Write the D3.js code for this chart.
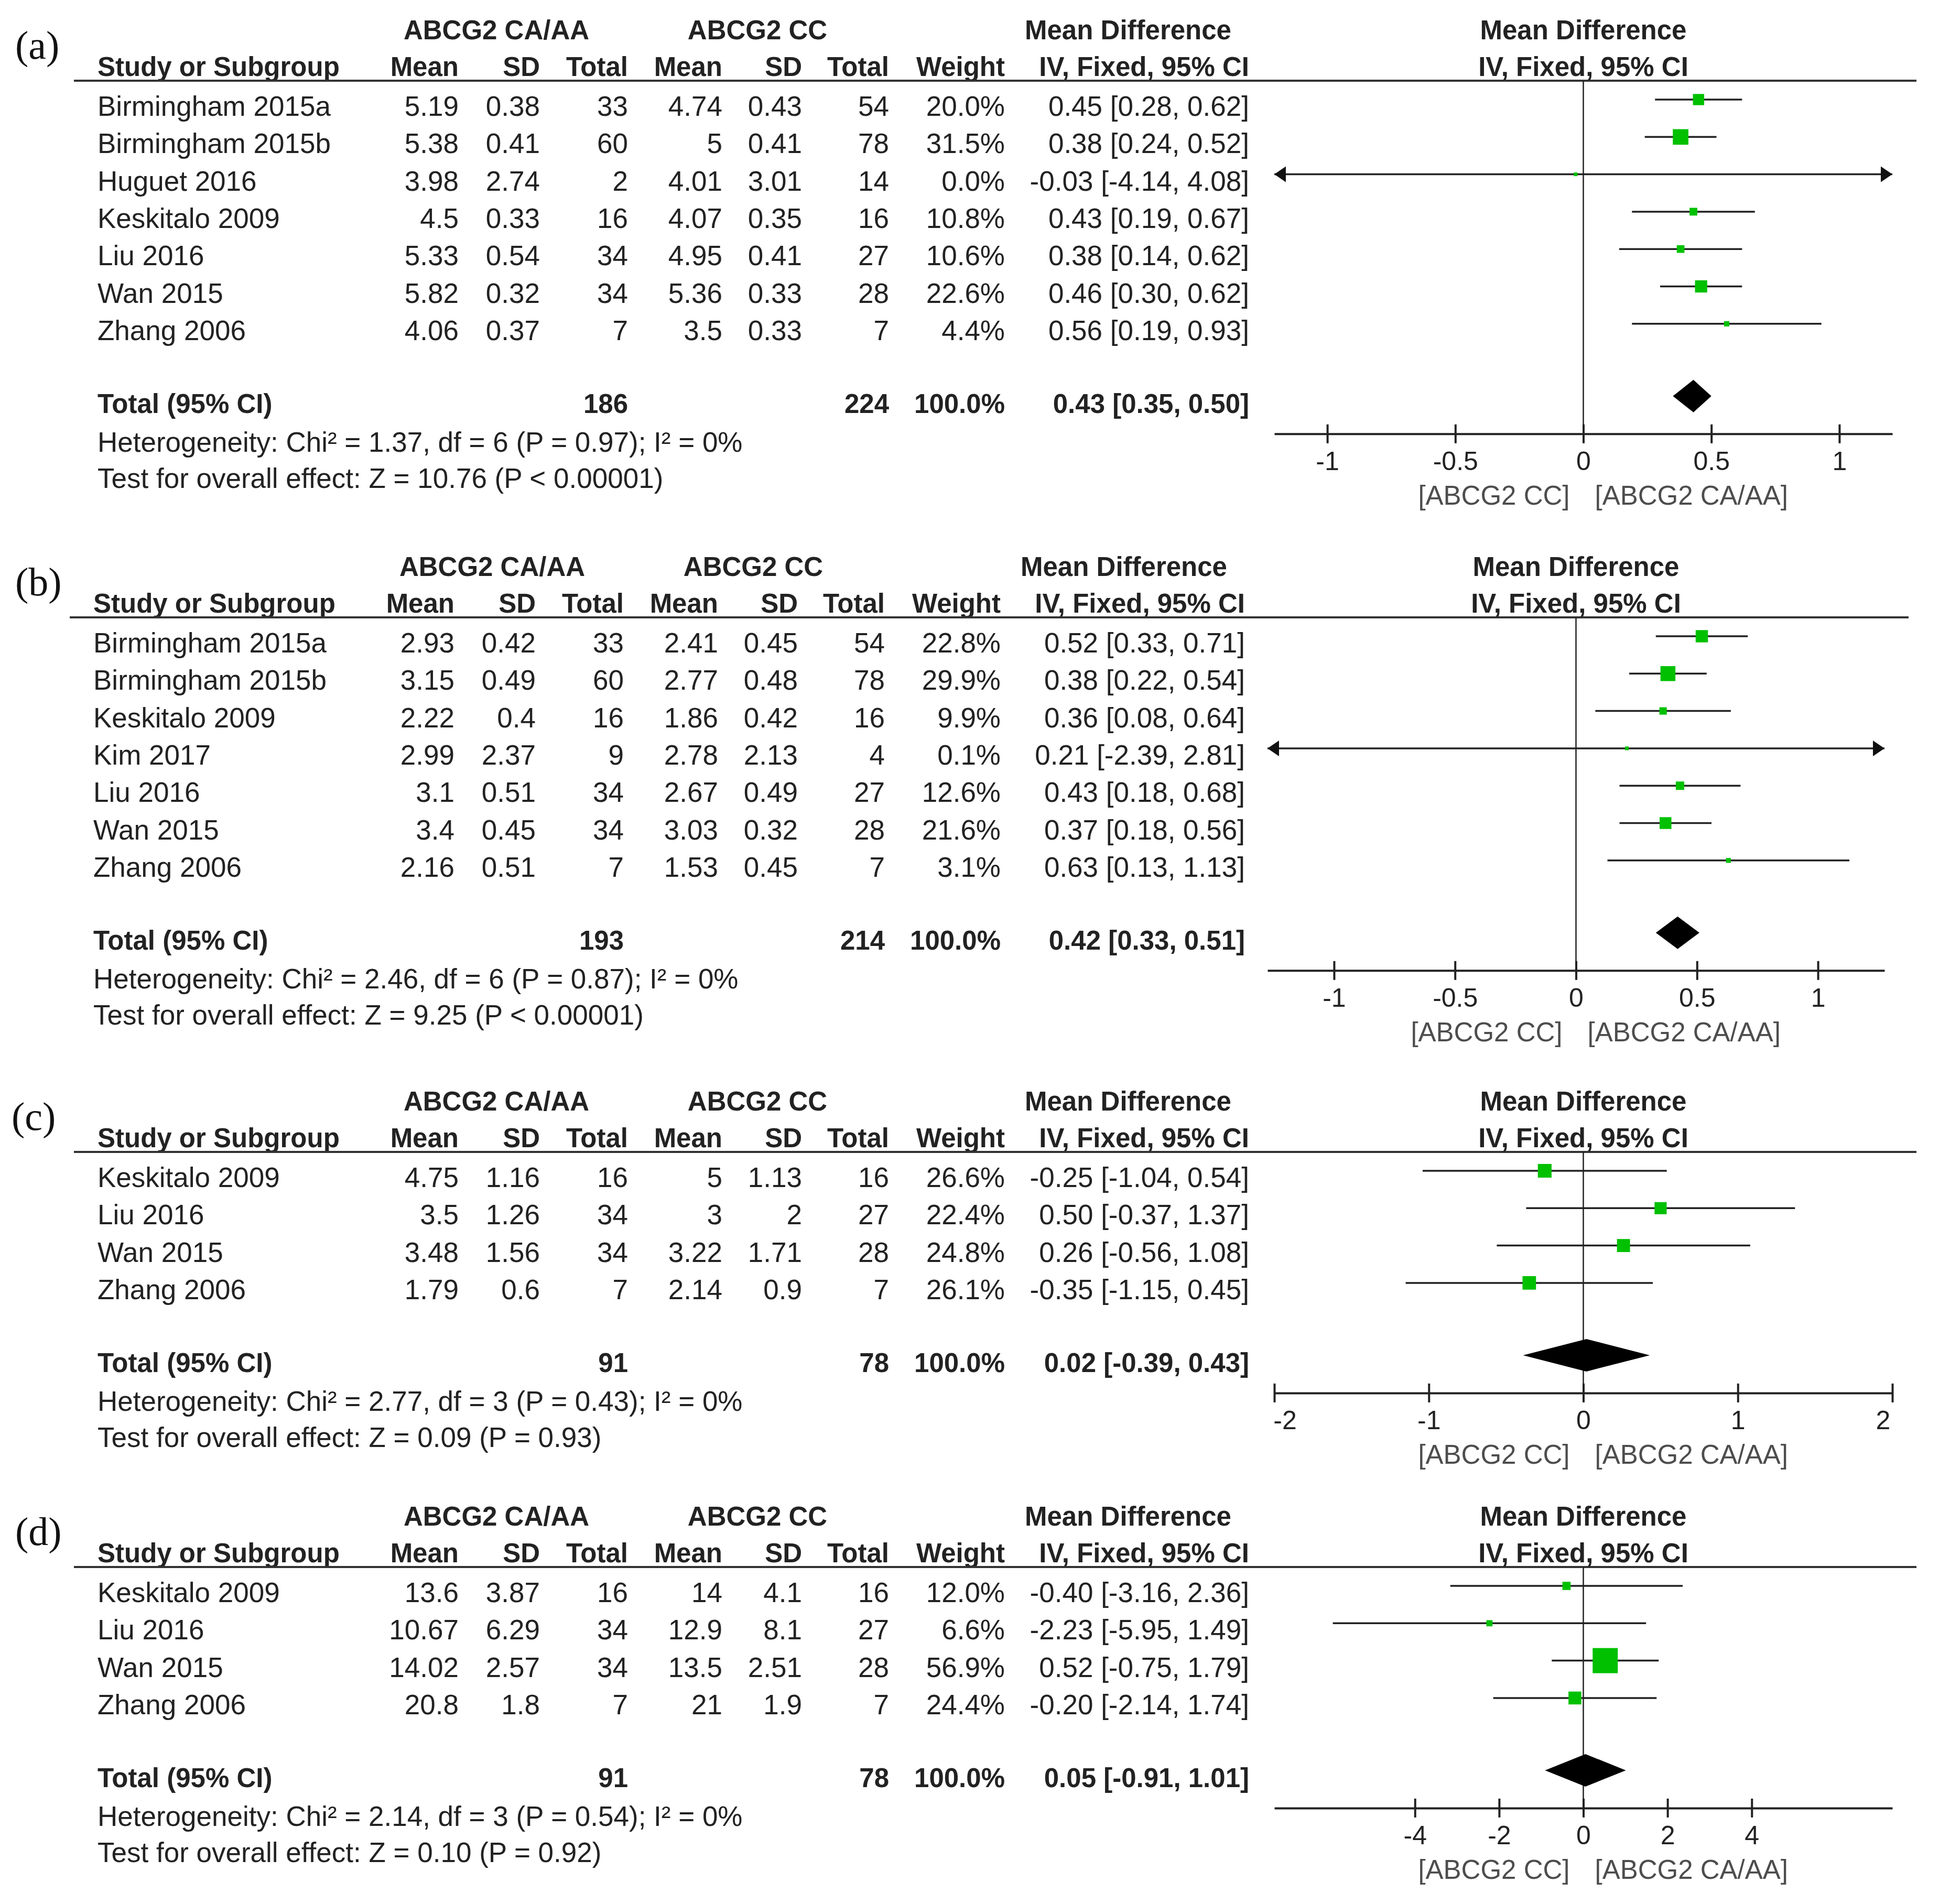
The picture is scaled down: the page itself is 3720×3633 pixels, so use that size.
<!DOCTYPE html>
<html><head><meta charset="utf-8">
<script src="https://cdn.jsdelivr.net/npm/d3@7"></script>
<style>html,body{margin:0;padding:0;background:#fff;} svg{display:block;background:#fff;}</style>
</head><body><svg id="chart" width="3720" height="3633"></svg>
<script>
// ---------------- Panel (a) ----------------
const studiesA = ["Birmingham 2015a","Birmingham 2015b","Huguet 2016","Keskitalo 2009","Liu 2016","Wan 2015","Zhang 2006"];
const caMeanA = [5.19,5.38,3.98,4.5,5.33,5.82,4.06];
const caSdA   = [0.38,0.41,2.74,0.33,0.54,0.32,0.37];
const caNA    = [33,60,2,16,34,34,7];
const ccMeanA = [4.74,5,4.01,4.07,4.95,5.36,3.5];
const ccSdA   = [0.43,0.41,3.01,0.35,0.41,0.33,0.33];
const ccNA    = [54,78,14,16,27,28,7];
const weightA = [20.0,31.5,0.0,10.8,10.6,22.6,4.4];
const mdA     = [0.45,0.38,-0.03,0.43,0.38,0.46,0.56];
const loA     = [0.28,0.24,-4.14,0.19,0.14,0.30,0.19];
const hiA     = [0.62,0.52,4.08,0.67,0.62,0.62,0.93];
const totalsA = [186,224];
const pooledA = [0.43,0.35,0.50];
const hetA  = "Heterogeneity: Chi\u00B2 = 1.37, df = 6 (P = 0.97); I\u00B2 = 0%";
const testA = "Test for overall effect: Z = 10.76 (P < 0.00001)";
const ticksA = [-1,-0.5,0,0.5,1];

// ---------------- Panel (b) ----------------
const studiesB = ["Birmingham 2015a","Birmingham 2015b","Keskitalo 2009","Kim 2017","Liu 2016","Wan 2015","Zhang 2006"];
const caMeanB = [2.93,3.15,2.22,2.99,3.1,3.4,2.16];
const caSdB   = [0.42,0.49,0.4,2.37,0.51,0.45,0.51];
const caNB    = [33,60,16,9,34,34,7];
const ccMeanB = [2.41,2.77,1.86,2.78,2.67,3.03,1.53];
const ccSdB   = [0.45,0.48,0.42,2.13,0.49,0.32,0.45];
const ccNB    = [54,78,16,4,27,28,7];
const weightB = [22.8,29.9,9.9,0.1,12.6,21.6,3.1];
const mdB     = [0.52,0.38,0.36,0.21,0.43,0.37,0.63];
const loB     = [0.33,0.22,0.08,-2.39,0.18,0.18,0.13];
const hiB     = [0.71,0.54,0.64,2.81,0.68,0.56,1.13];
const totalsB = [193,214];
const pooledB = [0.42,0.33,0.51];
const hetB  = "Heterogeneity: Chi\u00B2 = 2.46, df = 6 (P = 0.87); I\u00B2 = 0%";
const testB = "Test for overall effect: Z = 9.25 (P < 0.00001)";
const ticksB = [-1,-0.5,0,0.5,1];

// ---------------- Panel (c) ----------------
const studiesC = ["Keskitalo 2009","Liu 2016","Wan 2015","Zhang 2006"];
const caMeanC = [4.75,3.5,3.48,1.79];
const caSdC   = [1.16,1.26,1.56,0.6];
const caNC    = [16,34,34,7];
const ccMeanC = [5,3,3.22,2.14];
const ccSdC   = [1.13,2,1.71,0.9];
const ccNC    = [16,27,28,7];
const weightC = [26.6,22.4,24.8,26.1];
const mdC     = [-0.25,0.50,0.26,-0.35];
const loC     = [-1.04,-0.37,-0.56,-1.15];
const hiC     = [0.54,1.37,1.08,0.45];
const totalsC = [91,78];
const pooledC = [0.02,-0.39,0.43];
const hetC  = "Heterogeneity: Chi\u00B2 = 2.77, df = 3 (P = 0.43); I\u00B2 = 0%";
const testC = "Test for overall effect: Z = 0.09 (P = 0.93)";
const ticksC = [-2,-1,0,1,2];

// ---------------- Panel (d) ----------------
const studiesD = ["Keskitalo 2009","Liu 2016","Wan 2015","Zhang 2006"];
const caMeanD = [13.6,10.67,14.02,20.8];
const caSdD   = [3.87,6.29,2.57,1.8];
const caND    = [16,34,34,7];
const ccMeanD = [14,12.9,13.5,21];
const ccSdD   = [4.1,8.1,2.51,1.9];
const ccND    = [16,27,28,7];
const weightD = [12.0,6.6,56.9,24.4];
const mdD     = [-0.40,-2.23,0.52,-0.20];
const loD     = [-3.16,-5.95,-0.75,-2.14];
const hiD     = [2.36,1.49,1.79,1.74];
const totalsD = [91,78];
const pooledD = [0.05,-0.91,1.01];
const hetD  = "Heterogeneity: Chi\u00B2 = 2.14, df = 3 (P = 0.54); I\u00B2 = 0%";
const testD = "Test for overall effect: Z = 0.10 (P = 0.92)";
const ticksD = [-4,-2,0,2,4];

const groupLabels = ["ABCG2 CA/AA","ABCG2 CC"];
const favourLabels = ["[ABCG2 CC]","[ABCG2 CA/AA]"];

// ---------------- assemble ----------------
function mk(label, studies, caM, caS, caN, ccM, ccS, ccN, w, md, lo, hi, totals, pooled, het, test, ticks, domainHalf, layout) {
  return {label, rows: studies.map((s,i)=>({study:s, caM:caM[i], caS:caS[i], caN:caN[i], ccM:ccM[i], ccS:ccS[i], ccN:ccN[i], w:w[i], md:md[i], lo:lo[i], hi:hi[i]})),
          totals, pooled, het, test, ticks, domain:[-domainHalf, domainHalf], layout};
}
const panels = [
  mk("(a)", studiesA, caMeanA, caSdA, caNA, ccMeanA, ccSdA, ccNA, weightA, mdA, loA, hiA, totalsA, pooledA, hetA, testA, ticksA, 1.207, {hl:154, dx:0, range:[2431,3610]}),
  mk("(b)", studiesB, caMeanB, caSdB, caNB, ccMeanB, ccSdB, ccNB, weightB, mdB, loB, hiB, totalsB, pooledB, hetB, testB, ticksB, 1.275, {hl:1178, dx:-8, range:[2418,3595]}),
  mk("(c)", studiesC, caMeanC, caSdC, caNC, ccMeanC, ccSdC, ccNC, weightC, mdC, loC, hiC, totalsC, pooledC, hetC, testC, ticksC, 2.0, {hl:2198, dx:0, range:[2431,3610]}),
  mk("(d)", studiesD, caMeanD, caSdD, caND, ccMeanD, ccSdD, ccND, weightD, mdD, loD, hiD, totalsD, pooledD, hetD, testD, ticksD, 7.34, {hl:2990, dx:0, range:[2431,3610]})
];

const svg = d3.select("#chart");
const SANS = "'Liberation Sans', Arial, Helvetica, sans-serif";
const SERIF = "'Liberation Serif', 'Times New Roman', serif";
const TXT = "#222";
const GREEN = "#00c000";
const COL = {name:186, caM:875, caS:1030, caN:1198, ccM:1378, ccS:1530, ccN:1696, w:1917, ci:2383};
const ROWH = 71.3;
const sizeScale = d3.scaleLinear().domain([0,100]).range([7,79]);
const fmt2 = v => v.toFixed(2);
const ciStr = (m,l,h) => `${fmt2(m)} [${fmt2(l)}, ${fmt2(h)}]`;

panels.forEach(p => {
  const L = p.layout, hl = L.hl;
  // panel label
  svg.append("text").attr("x", p.label === "(c)" ? 22 : 29).attr("y", hl-42)
    .attr("font-family", SERIF).attr("font-size", 76).attr("fill", "#111").text(p.label);

  const g = svg.append("g").attr("transform", `translate(${L.dx},0)`);
  const T = (x, y, s, anchor, bold, size) => g.append("text").attr("x", x).attr("y", y)
      .attr("text-anchor", anchor || "start").attr("font-family", SANS)
      .attr("font-size", size || (bold ? 51 : 53)).attr("font-weight", bold ? "bold" : "normal")
      .attr("fill", TXT).text(s);

  // headers
  T(947, hl-79, groupLabels[0], "middle", true);
  T(1445, hl-79, groupLabels[1], "middle", true);
  T(2152, hl-79, "Mean Difference", "middle", true);
  T(COL.name, hl-9, "Study or Subgroup", "start", true);
  T(COL.caM, hl-9, "Mean", "end", true);
  T(COL.caS, hl-9, "SD", "end", true);
  T(COL.caN, hl-9, "Total", "end", true);
  T(COL.ccM, hl-9, "Mean", "end", true);
  T(COL.ccS, hl-9, "SD", "end", true);
  T(COL.ccN, hl-9, "Total", "end", true);
  T(COL.w, hl-9, "Weight", "end", true);
  T(COL.ci, hl-9, "IV, Fixed, 95% CI", "end", true);

  // header rule
  svg.append("line").attr("x1", 141+L.dx).attr("x2", 3656+ (L.range[1]-3610)).attr("y1", hl).attr("y2", hl)
    .attr("stroke", "#333").attr("stroke-width", 4);

  const base = i => hl + 67 + i*ROWH;
  p.rows.forEach((r,i) => {
    const y = base(i);
    T(COL.name, y, r.study);
    T(COL.caM, y, String(r.caM), "end");
    T(COL.caS, y, String(r.caS), "end");
    T(COL.caN, y, String(r.caN), "end");
    T(COL.ccM, y, String(r.ccM), "end");
    T(COL.ccS, y, String(r.ccS), "end");
    T(COL.ccN, y, String(r.ccN), "end");
    T(COL.w, y, r.w.toFixed(1) + "%", "end");
    T(COL.ci, y, ciStr(r.md, r.lo, r.hi), "end");
  });
  const n = p.rows.length;
  const totY = base(n-1) + 139;
  T(COL.name, totY, "Total (95% CI)", "start", true);
  T(COL.caN, totY, String(p.totals[0]), "end", true);
  T(COL.ccN, totY, String(p.totals[1]), "end", true);
  T(COL.w, totY, "100.0%", "end", true);
  T(COL.ci, totY, ciStr(p.pooled[0], p.pooled[1], p.pooled[2]), "end", true);
  T(COL.name, totY+74, p.het);
  T(COL.name, totY+143, p.test);

  // ---------------- forest plot ----------------
  const x = d3.scaleLinear().domain(p.domain).range(L.range);
  const fg = svg.append("g");
  const axisY = totY + 40;
  const cx = (L.range[0]+L.range[1])/2;
  const HT = (xx, y, s, anchor) => fg.append("text").attr("x", xx).attr("y", y).attr("text-anchor", anchor)
      .attr("font-family", SANS).attr("font-size", 51).attr("font-weight", "bold").attr("fill", TXT).text(s);
  HT(cx, hl-79, "Mean Difference", "middle");
  HT(cx, hl-9, "IV, Fixed, 95% CI", "middle");

  // zero line
  fg.append("line").attr("x1", x(0)).attr("x2", x(0)).attr("y1", hl).attr("y2", axisY)
    .attr("stroke", "#222").attr("stroke-width", 2.5);

  // study rows
  p.rows.forEach((r,i) => {
    const y = base(i) - 31;
    const x1 = x(Math.max(r.lo, p.domain[0])), x2 = x(Math.min(r.hi, p.domain[1]));
    fg.append("line").attr("x1", x1).attr("x2", x2).attr("y1", y).attr("y2", y)
      .attr("stroke", "#222").attr("stroke-width", 3.5);
    if (r.lo < p.domain[0]) {
      fg.append("path").attr("d", `M${x1},${y} L${x1+22},${y-15} L${x1+22},${y+15} Z`).attr("fill", "#111");
    }
    if (r.hi > p.domain[1]) {
      fg.append("path").attr("d", `M${x2},${y} L${x2-22},${y-15} L${x2-22},${y+15} Z`).attr("fill", "#111");
    }
    const s = sizeScale(r.w);
    fg.append("rect").attr("x", x(r.md)-s/2).attr("y", y-s/2).attr("width", s).attr("height", s)
      .attr("fill", GREEN);
  });

  // pooled diamond
  const dy = totY - 32, dh = 31;
  fg.append("path")
    .attr("d", `M${x(p.pooled[1])},${dy} L${x(p.pooled[0])},${dy-dh} L${x(p.pooled[2])},${dy} L${x(p.pooled[0])},${dy+dh} Z`)
    .attr("fill", "#000");

  // axis
  const ax = fg.append("g").attr("transform", `translate(0,${axisY})`)
    .call(d3.axisBottom(x).tickValues(p.ticks).tickFormat(d => String(d)).tickSizeOuter(0).tickSizeInner(18));
  ax.select(".domain").attr("stroke", "#222").attr("stroke-width", 4);
  ax.selectAll(".tick line").attr("y1", -18).attr("y2", 18).attr("stroke", "#222").attr("stroke-width", 4);
  ax.selectAll(".tick text").attr("y", 69).attr("dy", 0).attr("font-family", SANS)
    .attr("font-size", 50).attr("fill", TXT)
    .attr("x", d => d === p.domain[0] ? 20 : (d === p.domain[1] ? -18 : 0));

  // favour labels
  fg.append("text").attr("x", x(0)-26).attr("y", axisY+135).attr("text-anchor", "end")
    .attr("font-family", SANS).attr("font-size", 51).attr("fill", "#4d4d4d").text(favourLabels[0]);
  fg.append("text").attr("x", x(0)+22).attr("y", axisY+135).attr("text-anchor", "start")
    .attr("font-family", SANS).attr("font-size", 51).attr("fill", "#4d4d4d").text(favourLabels[1]);
});
</script>
</body></html>
